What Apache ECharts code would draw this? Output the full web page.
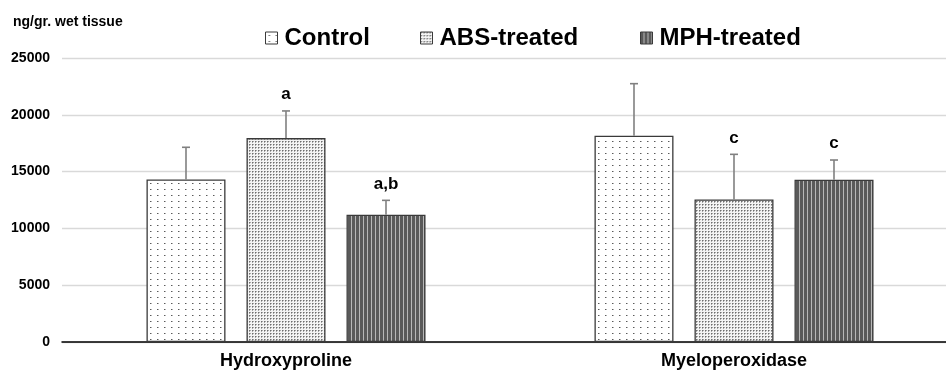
<!DOCTYPE html>
<html><head><meta charset="utf-8">
<script src="https://cdn.jsdelivr.net/npm/echarts@6/dist/echarts.min.js"></script>
<style>html,body{margin:0;padding:0;background:#fff}#c{width:946px;height:373px}</style>
</head><body><div id="c"></div>
<script>
const categories = ['Hydroxyproline', 'Myeloperoxidase'];
const seriesNames = ['Control', 'ABS-treated', 'MPH-treated'];
const controlVals = [14300, 18150];
const absVals = [17950, 12550];
const mphVals = [11200, 14280];
const controlErr = [2840, 4590];
const absErr = [2390, 3970];
const mphErr = [1270, 1740];
const controlSig = ['', ''];
const absSig = ['a', 'c'];
const mphSig = ['a,b', 'c'];
const yTicks = [0, 5000, 10000, 15000, 20000, 25000];
const yLabel = 'ng/gr. wet tissue';

function makePattern(w, h, draw) {
  const cv = document.createElement('canvas');
  cv.width = w; cv.height = h;
  const ctx = cv.getContext('2d');
  draw(ctx);
  return { image: cv, repeat: 'repeat' };
}
const patControl = makePattern(7, 6, ctx => {
  ctx.fillStyle = '#ffffff'; ctx.fillRect(0, 0, 7, 6);
  ctx.fillStyle = '#5a5a5a'; ctx.fillRect(3, 3, 1, 1);
  ctx.fillStyle = '#b0b0b0'; ctx.fillRect(4, 3, 1, 1);
});
const patAbs = makePattern(3, 3, ctx => {
  ctx.fillStyle = '#f4f4f4'; ctx.fillRect(0, 0, 3, 3);
  ctx.fillStyle = '#6e6e6e'; ctx.fillRect(0, 0, 1, 1);
  ctx.fillStyle = '#a8a8a8'; ctx.fillRect(1, 0, 1, 1); ctx.fillRect(0, 1, 1, 1);
});
const patMph = makePattern(4, 4, ctx => {
  ctx.fillStyle = '#5a5a5a'; ctx.fillRect(0, 0, 4, 4);
  ctx.fillStyle = '#b8b8b8'; ctx.fillRect(3, 0, 1, 4);
});

const BAR_W = 79;
const BAR_GAP = 21;
const groups = [
  { name: seriesNames[0], vals: controlVals, err: controlErr, sig: controlSig, pat: patControl },
  { name: seriesNames[1], vals: absVals, err: absErr, sig: absSig, pat: patAbs },
  { name: seriesNames[2], vals: mphVals, err: mphErr, sig: mphSig, pat: patMph }
];

const errData = [];
groups.forEach((g, k) => {
  g.vals.forEach((v, i) => errData.push([i, v, v + g.err[i], k, g.sig[i]]));
});

const font = '"Liberation Sans", Arial, sans-serif';
const series = groups.map(g => ({
  name: g.name,
  type: 'bar',
  data: g.vals,
  barWidth: BAR_W,
  barGap: (BAR_GAP / BAR_W * 100).toFixed(1) + '%',
  itemStyle: { color: g.pat, borderColor: '#3a3a3a', borderWidth: 1.3 },
  emphasis: { disabled: true },
  z: 2
}));
series.push({
  type: 'custom',
  name: 'err',
  data: errData,
  encode: { x: 0, y: 1 },
  z: 5,
  silent: true,
  renderItem: function (params, api) {
    const cat = api.value(0), mean = api.value(1), top = api.value(2), k = api.value(3);
    const sig = errData[params.dataIndex][4];
    const off = (k - 1) * (BAR_W + BAR_GAP);
    const p0 = api.coord([cat, mean]);
    const p1 = api.coord([cat, top]);
    const x = p0[0] + off;
    const children = [
      { type: 'line', shape: { x1: x, y1: p0[1], x2: x, y2: p1[1] }, style: { stroke: '#808080', lineWidth: 1.6 } },
      { type: 'line', shape: { x1: x - 4, y1: p1[1], x2: x + 4, y2: p1[1] }, style: { stroke: '#808080', lineWidth: 1.6 } }
    ];
    if (sig) {
      children.push({ type: 'text', style: { text: sig, x: x, y: p1[1] - 8, textAlign: 'center', textVerticalAlign: 'bottom', font: 'bold 17px ' + font, fill: '#000' } });
    }
    return { type: 'group', children: children };
  }
});

const legendPos = [265, 420, 640];
const chart = echarts.init(document.getElementById('c'));
chart.setOption({
  animation: false,
  title: { text: yLabel, left: 13, top: 15, padding: 0, textStyle: { fontFamily: font, fontWeight: 'bold', fontSize: 14, color: '#000' } },
  legend: seriesNames.map((n, i) => ({
    data: [n], left: legendPos[i], top: 26, padding: 0, itemWidth: 12, itemHeight: 12, itemGap: 0,
    icon: 'rect',
    selectedMode: false,
    textStyle: { fontFamily: font, fontWeight: 'bold', fontSize: 24, color: '#000', padding: [0, 0, 0, 2] },
    itemStyle: { borderColor: '#3a3a3a', borderWidth: 1 }
  })),
  grid: { left: 62, top: 58, right: -12, bottom: 31, outerBoundsMode: 'none', containLabel: false },
  xAxis: {
    type: 'category', data: categories,
    axisLine: { lineStyle: { color: '#000', width: 1.5 } },
    axisTick: { show: false },
    axisLabel: { fontFamily: font, fontWeight: 'bold', fontSize: 18, color: '#000', margin: 10 }
  },
  yAxis: {
    type: 'value', min: yTicks[0], max: yTicks[yTicks.length - 1], interval: yTicks[1] - yTicks[0],
    axisLine: { show: false }, axisTick: { show: false },
    splitLine: { lineStyle: { color: '#d9d9d9', width: 1.3 } },
    axisLabel: { fontFamily: font, fontWeight: 'bold', fontSize: 14, color: '#000', margin: 12, formatter: v => String(v) }
  },
  series: series
});
</script></body></html>
